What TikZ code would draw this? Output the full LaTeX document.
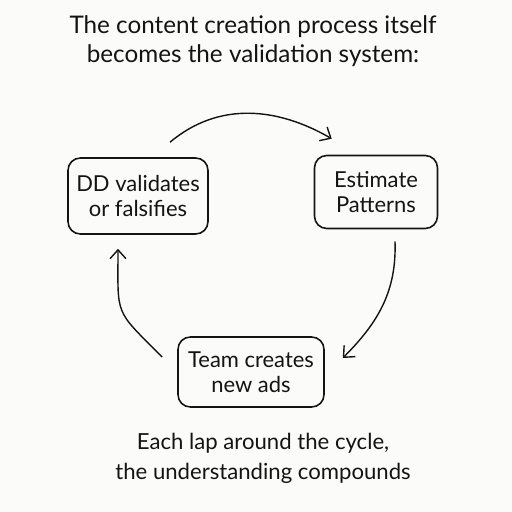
\documentclass[tikz,border=0pt]{standalone}
\usepackage{fontspec}
\setmainfont{Lato}
\usetikzlibrary{arrows.meta,calc}
\definecolor{paper}{RGB}{251,251,250}
\definecolor{ink}{RGB}{20,20,20}
\begin{document}
\begin{tikzpicture}[x=0.02cm,y=0.02cm,
    box/.style={draw=ink,line width=0.9pt,rounded corners=7pt,align=center,
      font=\fontsize{12.5}{14}\selectfont,text=ink},
    cyc/.style={draw=ink,line width=0.8pt,-{Straight Barb[length=5pt,width=9pt,line width=0.8pt]}},
    say/.style={align=center,text=ink,font=\fontsize{13.8}{16.5}\selectfont}]
        \fill[paper] (0,0) rectangle (512,512);
        \useasboundingbox (0,0) rectangle (512,512);
        \node[say] (title) at (253,471) {The content creation process itself\\becomes the validation system:};
        \node[box,minimum width=2.8cm,minimum height=1.52cm] (dd) at (138,316) {DD validates\\or falsifies};
        \node[box,minimum width=2.46cm,minimum height=1.46cm] (est) at (376,320) {Estimate\\Patterns};
        \node[box,minimum width=2.92cm,minimum height=1.4cm] (team) at (251,140) {Team creates\\new ads};
        \node[say,font=\fontsize{12.6}{17}\selectfont] (lap) at (263,54) {Each lap around the cycle,\\the understanding compounds};
        \draw[cyc] ($(dd.north)+(32,15)$) to[out=40,in=150] ($(est.north west)+(18,16)$);
        \draw[cyc] ($(est.south)+(19,-12)$) to[out=-88,in=45] ($(team.east)+(18,14)$);
        \draw[cyc] ($(team.west)+(-15,15)$) to[out=135,in=-90,looseness=1.5] ($(dd.south)+(-20,-14)$);
      \end{tikzpicture}
\end{document}
